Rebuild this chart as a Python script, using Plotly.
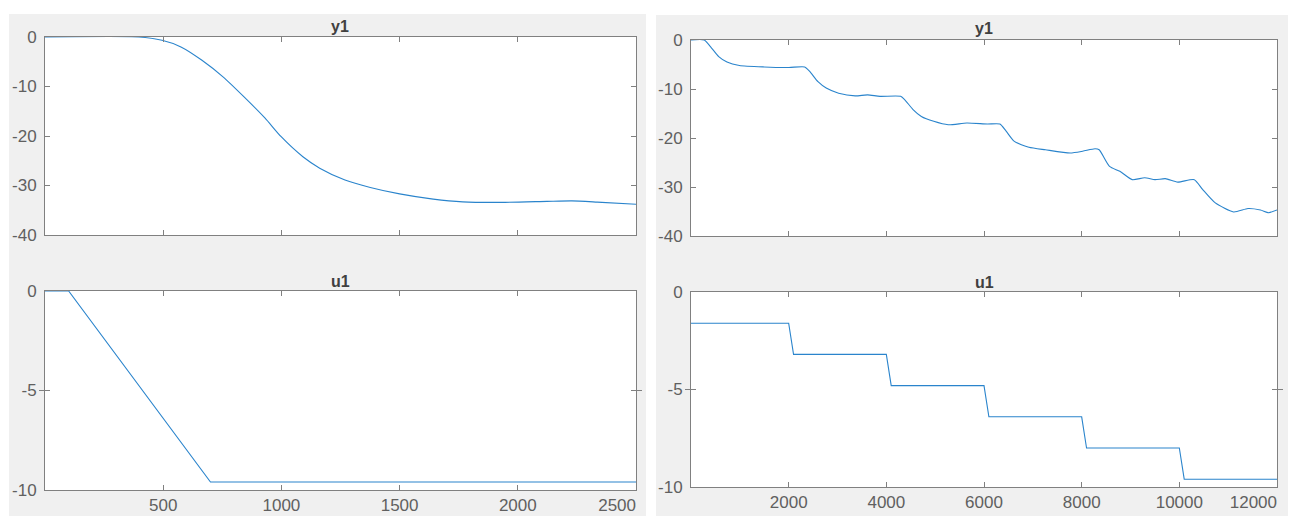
import plotly.graph_objects as go

# ---- left figure: single ramp test ----
ramp_t = [0, 100, 700, 2500]
ramp_u = [0, 0, -9.6, -9.6]

ramp_y_t = [0, 397, 495, 575, 664, 753, 842, 931, 998, 1091, 1162, 1269, 1376,
            1500, 1642, 1767, 1945, 2123, 2229, 2336, 2500]
ramp_y = [0, 0, -0.67, -2.0, -4.7, -8.05, -12.1, -16.4, -20.1, -24.2, -26.5,
          -28.9, -30.4, -31.7, -32.75, -33.3, -33.4, -33.2, -33.1, -33.35, -33.8]

# ---- right figure: staircase test ----
step_t = [0, 2000, 2100, 4000, 4100, 6000, 6100, 8000, 8100, 10000, 10100, 12000]
step_u = [-1.6, -1.6, -3.2, -3.2, -4.8, -4.8, -6.4, -6.4, -8.0, -8.0, -9.6, -9.6]

step_y_t = [0, 271, 398, 567, 737, 991, 1499, 2007, 2329, 2430, 2600, 2769, 3023,
            3362, 3616, 3870, 4294, 4378, 4547, 4717, 4971, 5267, 5648, 6071,
            6325, 6453, 6622, 6919, 7258, 7766, 8020, 8274, 8358, 8570, 8782,
            9036, 9290, 9502, 9713, 9968, 10306, 10476, 10730, 11111, 11407,
            11661, 11831, 12000]
step_y = [0, 0, -1.36, -3.4, -4.5, -5.2, -5.5, -5.6, -5.5, -6.4, -8.5, -9.8,
          -10.85, -11.4, -11.2, -11.5, -11.5, -12.2, -14.2, -15.6, -16.6, -17.3,
          -16.95, -17.15, -17.15, -18.6, -20.7, -21.9, -22.4, -23.05, -22.7,
          -22.2, -22.4, -25.8, -26.8, -28.5, -28.1, -28.5, -28.3, -29.0, -28.5,
          -30.5, -33.2, -35.1, -34.4, -34.7, -35.25, -34.7]

y_ticks_y1 = [0, -10, -20, -30, -40]
y_ticks_u1 = [0, -5, -10]
x_ticks_left = [500, 1000, 1500, 2000, 2500]
x_ticks_right = [2000, 4000, 6000, 8000, 10000, 12000]

W, H = 1289, 516
LINE = "#2a84cc"
AXC = "#808080"
TXT = "#606060"
FONT = "Liberation Sans, Arial, sans-serif"


def fx(px):
    return px / W


def fy(py):
    return 1 - py / H


fig = go.Figure()
fig.add_trace(go.Scatter(x=ramp_y_t, y=ramp_y, mode="lines", line=dict(color=LINE, width=1.1, shape="spline", smoothing=0.6), xaxis="x", yaxis="y"))
fig.add_trace(go.Scatter(x=ramp_t, y=ramp_u, mode="lines", line=dict(color=LINE, width=1.1), xaxis="x2", yaxis="y2"))
fig.add_trace(go.Scatter(x=step_y_t, y=step_y, mode="lines", line=dict(color=LINE, width=1.1, shape="spline", smoothing=0.6), xaxis="x3", yaxis="y3"))
fig.add_trace(go.Scatter(x=step_t, y=step_u, mode="lines", line=dict(color=LINE, width=1.1), xaxis="x4", yaxis="y4"))

# transparent companions that bring the edge-label axes into the layout
fig.add_trace(go.Scatter(x=ramp_t, y=ramp_u, mode="lines", line=dict(width=0), opacity=0,
                         hoverinfo="skip", xaxis="x5", yaxis="y2"))
fig.add_trace(go.Scatter(x=step_t, y=step_u, mode="lines", line=dict(width=0), opacity=0,
                         hoverinfo="skip", xaxis="x6", yaxis="y4"))

TICKFONT = dict(family=FONT, size=17, color=TXT)


def xax(dom, rng, ticks, anchor, show):
    # the right-most label is drawn by an overlay axis so it stays inside the window
    text = [str(v) for v in ticks[:-1]] + [""]
    return dict(domain=dom, range=rng, tickvals=ticks, ticktext=text,
                ticks="inside", ticklen=5,
                tickcolor=AXC, showline=True, linecolor=AXC, linewidth=1,
                mirror="allticks", showgrid=False, zeroline=False,
                showticklabels=show, anchor=anchor, automargin=False,
                tickfont=TICKFONT)


def edge_label_axis(over, anchor, rng, tick):
    return dict(overlaying=over, anchor=anchor, side="bottom", range=rng, tickvals=[tick],
                ticktext=[str(tick)], ticks="", showline=False, showgrid=False,
                zeroline=False, ticklabelposition="outside left", ticklabelstandoff=3,
                automargin=False, tickfont=TICKFONT)


def yax(dom, rng, ticks, anchor):
    return dict(domain=dom, range=rng, tickvals=ticks, ticktext=[str(v) for v in ticks],
                ticks="inside", ticklen=5,
                tickcolor=AXC, showline=True, linecolor=AXC, linewidth=1,
                mirror="allticks", showgrid=False, zeroline=False,
                anchor=anchor, automargin=False, ticklabelstandoff=4,
                tickfont=TICKFONT)


LX = [fx(45), fx(636)]
RX = [fx(691), fx(1277)]
LRANGE = [0, 2500]
RRANGE = [0, 12000]

fig.update_layout(
    width=W, height=H, margin=dict(l=0, r=0, t=0, b=0),
    paper_bgcolor="white", plot_bgcolor="white", showlegend=False,
    xaxis=xax(LX, LRANGE, x_ticks_left, "y", False),
    yaxis=yax([fy(235), fy(37)], [-40, 0], y_ticks_y1, "x"),
    xaxis2=xax(LX, LRANGE, x_ticks_left, "y2", True),
    yaxis2=yax([fy(490), fy(291)], [-10, 0], y_ticks_u1, "x2"),
    xaxis3=xax(RX, RRANGE, x_ticks_right, "y3", False),
    yaxis3=yax([fy(236), fy(40)], [-40, 0], y_ticks_y1, "x3"),
    xaxis4=xax(RX, RRANGE, x_ticks_right, "y4", True),
    yaxis4=yax([fy(487), fy(292)], [-10, 0], y_ticks_u1, "x4"),
    xaxis5=edge_label_axis("x2", "y2", LRANGE, x_ticks_left[-1]),
    xaxis6=edge_label_axis("x4", "y4", RRANGE, x_ticks_right[-1]),
)

# figure window backgrounds
for x0, x1, y0 in [(9, 646, 14), (656, 1288, 15)]:
    fig.add_shape(type="rect", xref="paper", yref="paper", x0=fx(x0), x1=fx(x1),
                  y0=0, y1=fy(y0), fillcolor="#f0f0f0", line_width=0, layer="below")

# white axes backgrounds on top of the window colour
for xa, ya in [("x", "y"), ("x2", "y2"), ("x3", "y3"), ("x4", "y4")]:
    fig.add_shape(type="rect", xref=f"{xa} domain", yref=f"{ya} domain", x0=0, x1=1,
                  y0=0, y1=1, fillcolor="white", line_width=0, layer="below")

# subplot titles
for txt, cx, cy in [("y1", 340, 27), ("u1", 340, 281), ("y1", 984, 29), ("u1", 984, 282)]:
    fig.add_annotation(text=f"<b>{txt}</b>", xref="paper", yref="paper", x=fx(cx), y=fy(cy),
                       showarrow=False, xanchor="center", yanchor="middle",
                       font=dict(family=FONT, size=16, color="#404040"))

fig.write_html("out.html")
